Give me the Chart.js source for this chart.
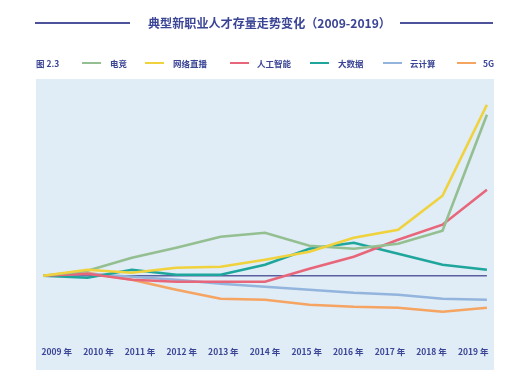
<!DOCTYPE html>
<html><head><meta charset="utf-8">
<script src="https://cdn.jsdelivr.net/npm/chart.js@4/dist/chart.umd.min.js"></script>
<style>
html,body{margin:0;padding:0;background:#fff;width:518px;height:382px;overflow:hidden;font-family:"Noto Sans CJK SC","Noto Sans",sans-serif;}
#wrap{position:relative;width:518px;height:382px;}
canvas{position:absolute;left:0;top:0;}
.t{position:absolute;color:#3b4596;font-weight:bold;white-space:nowrap;}
.ln{position:absolute;height:2px;}
</style></head><body>
<div id="wrap"><canvas id="c" width="518" height="382"></canvas></div>
<script>
const title = "典型新职业人才存量走势变化（2009-2019）";
const figLabel = "图 2.3";
const years = ["2009 年","2010 年","2011 年","2012 年","2013 年","2014 年","2015 年","2016 年","2017 年","2018 年","2019 年"];
const seriesNames = ["电竞","网络直播","人工智能","大数据","云计算","5G"];
const esports   = [0, 5, 18, 28, 39, 43, 30, 27, 32, 45, 161];
const livestream= [0, 6, 3, 8, 9, 16, 24, 38, 46, 80, 171];
const ai        = [0, 2, -4, -6, -6, -6, 7, 19, 36, 51, 86];
const bigdata   = [0, -2, 6, 1, 1, 11, 27, 33, 22, 11, 6];
const cloud     = [0, 2, -1, -4, -8, -11, -14, -17, -19, -23, -24];
const fiveG     = [0, 3, -4, -14, -23, -24, -29, -31, -32, -36, -32];
const baseline  = [0, 0, 0, 0, 0, 0, 0, 0, 0, 0, 0];

const colors = ["#94bf90","#f0d23c","#e8667a","#1fa69c","#93b5dd","#f5a462"];
const seriesData = [esports, livestream, ai, bigdata, cloud, fiveG];

const wrap = document.getElementById('wrap');
function addText(txt, x, y, size, extra){
  const d = document.createElement('div'); d.className='t'; d.textContent = txt;
  d.style.left = x+'px'; d.style.top = y+'px'; d.style.fontSize = size+'px'; d.style.lineHeight='1';
  if (extra) Object.assign(d.style, extra);
  wrap.appendChild(d); return d;
}
function addLine(x1, x2, y, color, h){
  const d = document.createElement('div'); d.className='ln';
  d.style.left=x1+'px'; d.style.width=(x2-x1)+'px'; d.style.top=y+'px'; d.style.background=color; d.style.height=(h||2)+'px';
  wrap.appendChild(d);
}
// title with side rules
addLine(35, 130, 22, "#4d529c", 1.5);
addLine(400, 493, 22, "#4d529c", 1.5);
addText(title, 148, 16.5, 12.1);
// legend
addText(figLabel, 36, 58.5, 8.5);
const legX = [[82,110],[145,173],[230,257],[310,338],[383,410],[457,483]];
seriesNames.forEach((n,i)=>{
  addLine(legX[i][0], legX[i][0]+19, 62, colors[i], 2);
  addText(n, legX[i][1], 58.5, 8.5);
});

const datasets = [];
const order = [1,0,2,3,4,5];
order.forEach(i=>{
  datasets.push({label: seriesNames[i], data: seriesData[i].map((v,k)=>({x:k,y:v})), borderColor: colors[i], borderWidth: 2.6, pointRadius: 0, tension: 0, xAxisID:'xd', fill:false});
});
datasets.push({label:'base', data: baseline.map((v,k)=>({x:k,y:v})), borderColor:"#5a5f9f", borderWidth:1.6, pointRadius:0, xAxisID:'xd'});

const panelBg = {
  id:'panelBg',
  beforeDraw(chart){
    const {ctx, chartArea:a} = chart;
    ctx.save(); ctx.fillStyle = "#e0ecf6";
    ctx.fillRect(a.left, a.top, a.right-a.left, 370-a.top);
    ctx.restore();
  }
};

new Chart(document.getElementById('c'), {
  type:'line',
  data:{labels: years, datasets},
  options:{
    responsive:false, animation:false,
    layout:{padding:{left:36, right:24, top:79, bottom:0}},
    plugins:{legend:{display:false}, tooltip:{enabled:false}, title:{display:false}},
    scales:{
      x:{type:'category', offset:true, grid:{display:false, drawTicks:false}, border:{display:false},
         ticks:{color:"#3b4596", font:{family:"Noto Sans CJK SC", size:8.5, weight:'bold'}, padding:7, maxRotation:0, autoSkip:false},
         afterFit(axis){ axis.height = 42; }},
      xd:{type:'linear', display:false, min:-0.16, max:10.16},
      y:{display:false, min:-64.3, max:196.7}
    }
  },
  plugins:[panelBg]
});
</script></body></html>
